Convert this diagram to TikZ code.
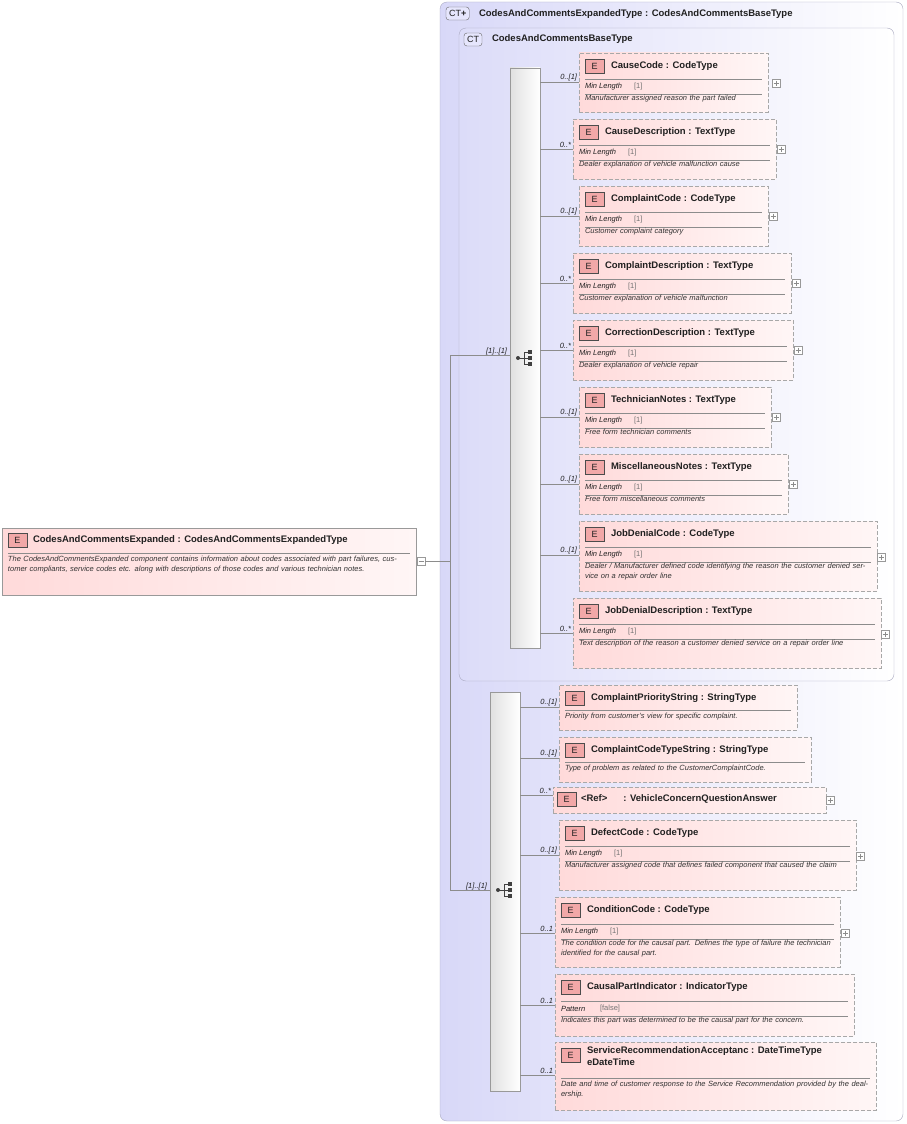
\documentclass[tikz,border=0pt]{standalone}
\usepackage{fontspec}
\setmainfont{Liberation Sans}
\usetikzlibrary{calc}
\definecolor{ctfill}{HTML}{D8D8F8}
\definecolor{ctline}{HTML}{A8A8C0}
\definecolor{epink}{HTML}{FFDADA}
\definecolor{epinkr}{HTML}{FFF6F6}
\definecolor{ebd}{HTML}{A8A8A8}
\definecolor{badgef}{HTML}{F2A8A8}
\definecolor{txt}{HTML}{202020}
\tikzset{
 x=1pt,y=-1pt,
 every node/.style={inner sep=0,outer sep=0,text=txt},
 ctbox/.style={draw=ctline,rounded corners=7pt,left color=ctfill,right color=white,shading angle=90},
 ebox/.style={draw=ebd,dashed,line width=0.9pt,left color=epink,right color=epinkr,anchor=north west,dash pattern=on 4pt off 2pt},
 badge/.style={draw=black!70,fill=badgef,minimum width=19pt,minimum height=14pt,anchor=north west,font=\fontsize{9}{10}\selectfont},
 ctbadge/.style={draw=black!60,fill=ctfill!80!blue!30,rounded corners=3pt,minimum height=13pt,anchor=north west,font=\fontsize{9}{10}\selectfont,inner xsep=3pt},
 etitle/.style={font=\fontsize{9.5}{11.5}\selectfont\bfseries,align=left},
 mult/.style={font=\fontsize{7.5}{9}\selectfont\itshape,anchor=south east,inner sep=1pt},
 fac/.style={font=\fontsize{7.5}{9}\selectfont\itshape,anchor=west},
 facv/.style={font=\fontsize{7.5}{9}\selectfont,text=black!55,anchor=west},
 dsc/.style={font=\fontsize{7.5}{9.6}\selectfont\itshape,anchor=north west,align=left,text=black!80},
 sep/.style={draw=black!45,line width=0.6pt},
 conn/.style={draw=black!45,line width=0.6pt},
 seq/.style={draw=black!40,left color=black!12,right color=white,shading angle=90,anchor=north west},
 pm/.style={draw=black!40,fill=white,minimum size=8pt},
}
\newcommand\el[8]{%
 \node[ebox,minimum width={(#4-#2)*1pt},minimum height={(#5-#3)*1pt}] (#1) at (#2,#3) {};
 \node[badge] (#1b) at (#2+6,#3+6) {E};
 \node[etitle,anchor=west] (#1t) at ($(#1b.east)+(7,0)$) {#6};
 \coordinate (#1in) at (#2,#7);
 \node[mult] (#1m) at (#2-1,#7) {#8};
}
\newcommand\tl[4]{% name title x y (for multiline title)
 \node[etitle,anchor=north west] (#1t) at (#3,#4) {#2};}
\newcommand\fc[7]{% name x1 x2 y label valx val
 \draw[sep] (#2+6,#4) -- (#3-6,#4);
 \node[fac] (#1f) at (#2+6,#4+8) {#5};
 \node[facv] (#1v) at (#2+#6,#4+8) {#7};
 \draw[sep] (#2+6,#4+15) -- (#3-6,#4+15);}
\newcommand\sepl[3]{\draw[sep] (#1+6,#3) -- (#2-6,#3);}
\newcommand\ds[5]{% name x1 x2 y text
 \node[dsc,text width={(#3-#2-12)*1pt}] (#1d) at (#2+6,#4) {#5};}
\newcommand\plus[3]{\node[pm] (#1p) at (#2,#3) {};
 \draw[black!45,line width=0.5pt] ($(#1p)+(-2.5,0)$) -- ($(#1p)+(2.5,0)$) ($(#1p)+(0,-2.5)$) -- ($(#1p)+(0,2.5)$);}
\newcommand\seqicon[3]{%
 \coordinate (#1) at (#2,#3);
 \fill[black!75] (#2-7,#3) circle (2pt);
 \draw[black!75,line width=0.8pt] (#2-7,#3) -- (#2-1,#3) (#2-1,#3-6) -- (#2-1,#3+6) (#2-1,#3-6) -- (#2+4,#3-6) (#2-1,#3+6) -- (#2+4,#3+6) (#2-1,#3) -- (#2+4,#3);
 \foreach \yy in {-6,0,6} \fill[black!75] (#2+3,#3+\yy-2.2) rectangle (#2+7.4,#3+\yy+2.2);}
\begin{document}
\begin{tikzpicture}
\useasboundingbox (0,0) rectangle (907,1124);
% outer CT
\path[ctbox] (440,2) rectangle (903,1121);
\node[ctbadge] (ctb1) at (446,7) {CT\raisebox{0pt}{\textbf{+}}};
\node[etitle,anchor=west] (ct1) at (479,14) {CodesAndCommentsExpandedType : CodesAndCommentsBaseType};
\path[ctbox,left color=ctfill!90!white] (459,28) rectangle (894,681);
\node[ctbadge] (ctb2) at (464,33) {CT};
\node[etitle,anchor=west] (ct2) at (492,39) {CodesAndCommentsBaseType};
% sequences
\node[seq,minimum width=30pt,minimum height=580pt] (seqA) at (510,68) {};
\seqicon{icA}{525}{358}
\node[seq,minimum width=30pt,minimum height=399pt] (seqB) at (490,692) {};
\seqicon{icB}{505}{890}
% root element
\node[draw=black!40,fill=epink,left color=epink,right color=epinkr,minimum width=414pt,minimum height=67pt,anchor=north west] (root) at (2,528) {};
\node[badge] (rootb) at (8,533) {E};
\node[etitle,anchor=west] (roott) at (33,540) {CodesAndCommentsExpanded : CodesAndCommentsExpandedType};
\draw[sep] (8,553) -- (410,553);
\node[dsc,text width=400pt] (rootd) at (8,556) {The CodesAndCommentsExpanded component contains information about codes associated with part failures, customer compliants, service codes etc. along with descriptions of those codes and various technician notes.};
\node[pm] (rootp) at (421,561) {};
\draw[black!45,line width=0.5pt] ($(rootp)+(-2.5,0)$) -- ($(rootp)+(2.5,0)$);
\coordinate (jn) at (450,561);
\draw[conn] (rootp.east) -- (jn);
\draw[conn] (450,355) -- (450,890);
\draw[conn] (450,355) -- (seqA.west |- 0,355);
\draw[conn] (450,890) -- (seqB.west |- 0,890);
\node[mult] (mA) at (508,356) {[1]..[1]};
\node[mult] (mB) at (488,891) {[1]..[1]};
% group A
\el{a1}{579}{53}{768}{112}{CauseCode : CodeType}{82}{0..[1]}
\fc{a1}{579}{768}{79}{Min Length}{55}{[1]}
\ds{a1}{579}{768}{95}{Manufacturer assigned reason the part failed}
\plus{a1}{776}{83}
\el{a2}{573}{119}{776}{179}{CauseDescription : TextType}{149}{0..*}
\fc{a2}{573}{776}{145}{Min Length}{55}{[1]}
\ds{a2}{573}{776}{161}{Dealer explanation of vehicle malfunction cause}
\plus{a2}{781}{149}
\el{a3}{579}{186}{768}{246}{ComplaintCode : CodeType}{216}{0..[1]}
\fc{a3}{579}{768}{212}{Min Length}{55}{[1]}
\ds{a3}{579}{768}{228}{Customer complaint category}
\plus{a3}{773}{216}
\el{a4}{573}{253}{791}{313}{ComplaintDescription : TextType}{283}{0..*}
\fc{a4}{573}{791}{279}{Min Length}{55}{[1]}
\ds{a4}{573}{791}{295}{Customer explanation of vehicle malfunction}
\plus{a4}{796}{283}
\el{a5}{573}{320}{793}{380}{CorrectionDescription : TextType}{350}{0..*}
\fc{a5}{573}{793}{346}{Min Length}{55}{[1]}
\ds{a5}{573}{793}{362}{Dealer explanation of vehicle repair}
\plus{a5}{798}{350}
\el{a6}{579}{387}{771}{447}{TechnicianNotes : TextType}{417}{0..[1]}
\fc{a6}{579}{771}{413}{Min Length}{55}{[1]}
\ds{a6}{579}{771}{429}{Free form technician comments}
\plus{a6}{776}{417}
\el{a7}{579}{454}{788}{514}{MiscellaneousNotes : TextType}{484}{0..[1]}
\fc{a7}{579}{788}{480}{Min Length}{55}{[1]}
\ds{a7}{579}{788}{496}{Free form miscellaneous comments}
\plus{a7}{793}{484}
\el{a8}{579}{521}{877}{591}{JobDenialCode : CodeType}{555}{0..[1]}
\fc{a8}{579}{877}{547}{Min Length}{55}{[1]}
\ds{a8}{579}{877}{563}{Dealer / Manufacturer defined code identifying the reason the customer denied service on a repair order line}
\plus{a8}{881}{557}
\el{a9}{573}{598}{881}{668}{JobDenialDescription : TextType}{633}{0..*}
\fc{a9}{573}{881}{624}{Min Length}{55}{[1]}
\ds{a9}{573}{881}{640}{Text description of the reason a customer denied service on a repair order line}
\plus{a9}{885}{634}
\foreach \n in {a1,a2,a3,a4,a5,a6,a7,a8,a9} \draw[conn] (seqA.east |- \n in) -- (\n in);
% group B
\el{b1}{559}{685}{797}{730}{ComplaintPriorityString : StringType}{707}{0..[1]}
\sepl{559}{797}{710}
\ds{b1}{559}{797}{713}{Priority from customer's view for specific complaint.}
\el{b2}{559}{737}{811}{782}{ComplaintCodeTypeString : StringType}{758}{0..[1]}
\sepl{559}{811}{762}
\ds{b2}{559}{811}{765}{Type of problem as related to the CustomerComplaintCode.}
\node[ebox,minimum width=273pt,minimum height=26pt] (b3) at (553,787) {};
\node[badge] (b3b) at (557,792) {E};
\node[etitle,anchor=west] (b3t) at ($(b3b.east)+(5,-0.5)$) {<Ref>\hspace{16pt}: VehicleConcernQuestionAnswer};
\coordinate (b3in) at (553,795);
\node[mult] (b3m) at (552,795) {0..*};
\plus{b3}{830}{800}
\el{b4}{559}{820}{856}{890}{DefectCode : CodeType}{855}{0..[1]}
\fc{b4}{559}{856}{846}{Min Length}{55}{[1]}
\ds{b4}{559}{856}{862}{Manufacturer assigned code that defines failed component that caused the claim}
\plus{b4}{860}{856}
\el{b5}{555}{897}{840}{967}{ConditionCode : CodeType}{933}{0..1}
\fc{b5}{555}{840}{924}{Min Length}{55}{[1]}
\ds{b5}{555}{840}{940}{The condition code for the causal part. Defines the type of failure the technician identified for the causal part.}
\plus{b5}{845}{933}
\el{b6}{555}{974}{854}{1036}{CausalPartIndicator : IndicatorType}{1005}{0..1}
\fc{b6}{555}{854}{1001}{Pattern}{45}{[false]}
\ds{b6}{555}{854}{1017}{Indicates this part was determined to be the causal part for the concern.}
\node[ebox,minimum width=321pt,minimum height=68pt] (b7) at (555,1042) {};
\node[badge] (b7b) at (561,1048) {E};
\node[etitle,anchor=north west] (b7t) at (587,1047) {ServiceRecommendationAcceptanc : DateTimeType\\eDateTime};
\coordinate (b7in) at (555,1075);
\node[mult] (b7m) at (554,1075) {0..1};
\sepl{555}{876}{1078}
\ds{b7}{555}{876}{1081}{Date and time of customer response to the Service Recommendation provided by the dealership.}
\foreach \n in {b1,b2,b3,b4,b5,b6,b7} \draw[conn] (seqB.east |- \n in) -- (\n in);
\end{tikzpicture}
\end{document}
